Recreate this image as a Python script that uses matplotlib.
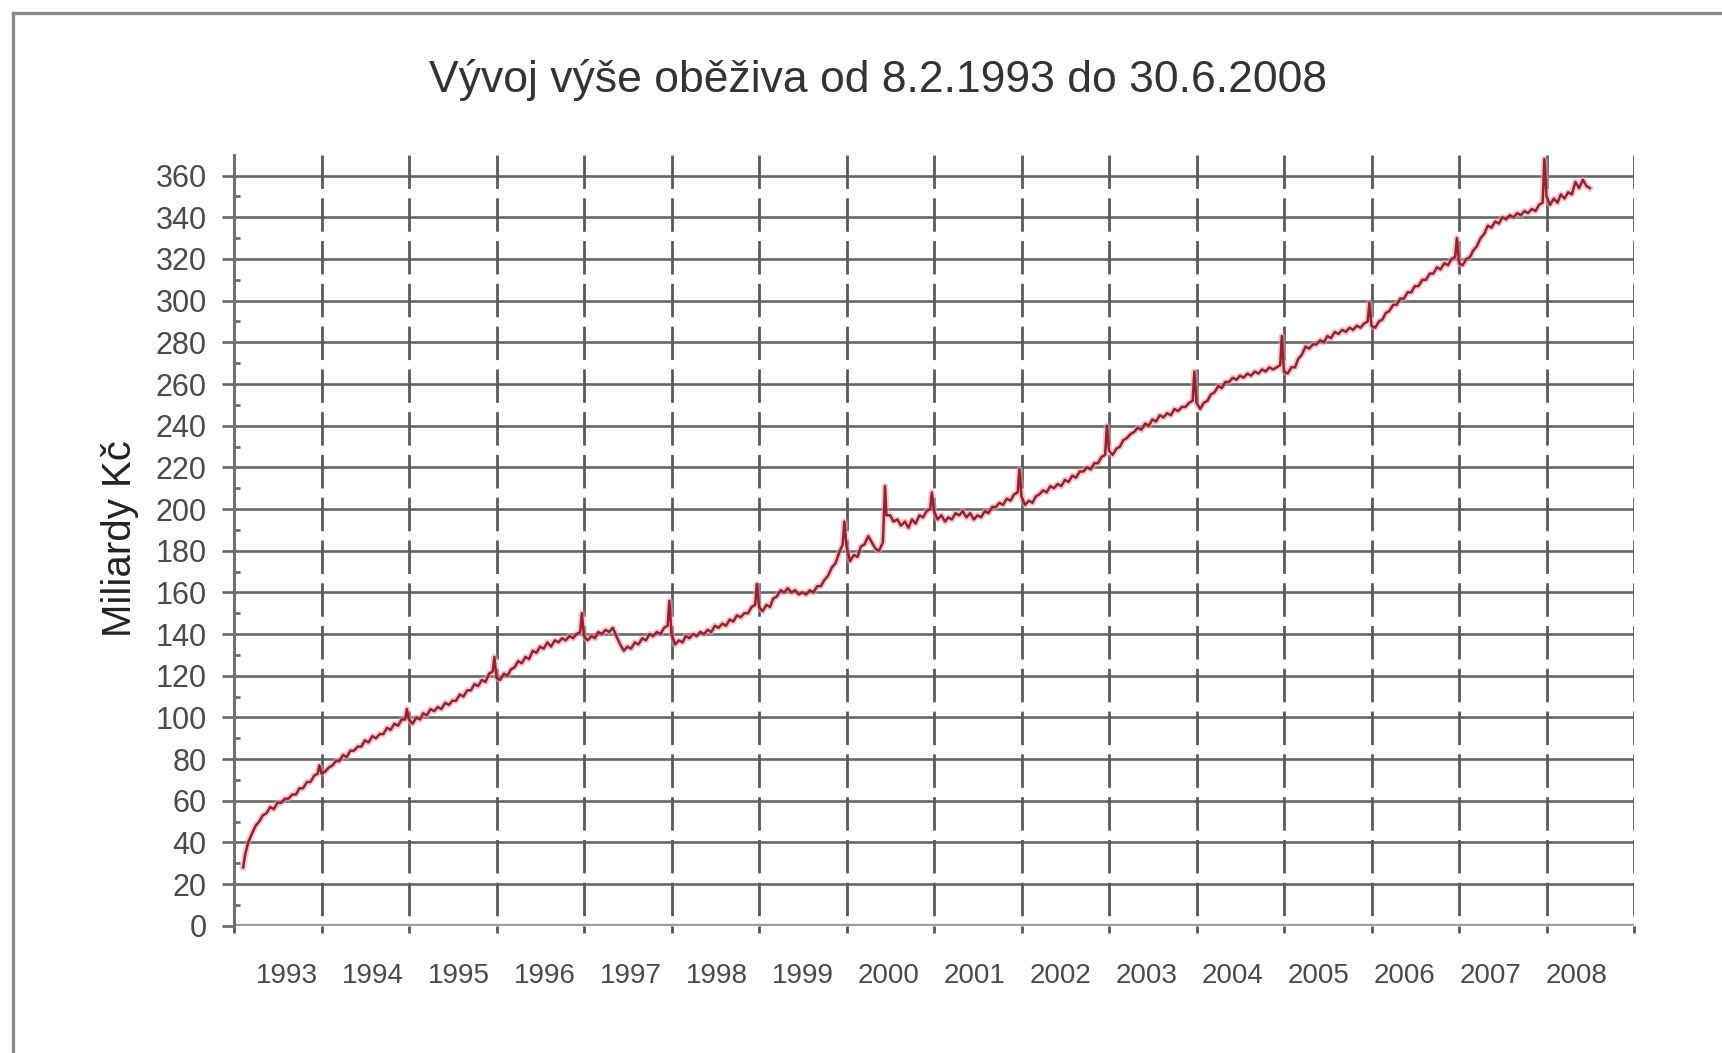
import pandas as pd
import matplotlib
matplotlib.use('Agg')
import matplotlib.pyplot as plt
import matplotlib.transforms as mtransforms
from matplotlib.lines import Line2D

title = 'Vývoj výše oběživa od 8.2.1993 do 30.6.2008'
ylabel = 'Miliardy Kč'

# oběživo v mld. Kč, odečteno z grafu vždy k 1. a 16. dni v měsíci
v1993 = [28, 34, 40, 44, 48, 50, 53, 54, 57, 56, 59, 59, 61, 61, 63, 63, 66, 66, 69, 69, 72, 73]  # od 8.2.
v1994 = [73, 74, 76, 77, 79, 79, 82, 81, 84, 84, 86, 86, 89, 88, 91, 90, 92, 92, 95, 94, 97, 96, 99, 99]
v1995 = [99, 97, 100, 99, 102, 101, 104, 103, 105, 104, 107, 106, 108, 108, 111, 110, 113, 113, 116, 115, 118, 117, 121, 122]
v1996 = [119, 118, 121, 120, 123, 124, 127, 126, 129, 128, 132, 131, 134, 133, 136, 134, 137, 136, 138, 137, 139, 138, 140, 141]
v1997 = [139, 137, 139, 138, 141, 140, 142, 141, 143, 139, 135, 132, 134, 133, 136, 135, 138, 137, 140, 139, 141, 140, 143, 144]
v1998 = [140, 135, 137, 136, 139, 138, 140, 139, 141, 140, 142, 141, 144, 143, 145, 144, 147, 146, 149, 148, 150, 150, 153, 154]
v1999 = [153, 151, 154, 153, 157, 158, 161, 160, 162, 160, 161, 159, 160, 159, 161, 160, 163, 163, 166, 168, 172, 174, 179, 183]
v2000 = [182, 175, 178, 177, 182, 183, 187, 184, 181, 180, 184, 197, 197, 194, 195, 192, 194, 191, 195, 193, 197, 196, 199, 200]
v2001 = [199, 195, 197, 194, 196, 195, 198, 197, 199, 196, 198, 195, 197, 196, 199, 198, 201, 201, 203, 202, 205, 204, 207, 208]
v2002 = [206, 202, 204, 203, 206, 207, 209, 208, 211, 210, 212, 211, 214, 213, 216, 215, 218, 218, 220, 219, 222, 222, 225, 226]
v2003 = [228, 226, 229, 230, 233, 234, 236, 237, 239, 238, 241, 240, 243, 242, 245, 244, 246, 245, 248, 247, 249, 249, 251, 252]
v2004 = [251, 248, 251, 252, 255, 256, 259, 258, 261, 261, 263, 262, 264, 263, 265, 264, 266, 265, 267, 266, 268, 267, 268, 269]
v2005 = [266, 265, 268, 268, 272, 274, 278, 277, 279, 279, 281, 280, 283, 282, 285, 284, 286, 285, 287, 286, 288, 287, 289, 290]
v2006 = [288, 287, 290, 291, 294, 295, 298, 298, 301, 301, 304, 304, 307, 307, 310, 310, 313, 313, 316, 315, 318, 317, 320, 321]
v2007 = [318, 317, 320, 321, 324, 326, 330, 332, 336, 335, 338, 337, 340, 339, 341, 340, 342, 341, 343, 342, 344, 343, 346, 347]
v2008 = [350, 346, 349, 347, 351, 349, 352, 351, 357, 354, 358, 355, 354]  # do 30.6.

# vánoční špičky (kolem 23.12.) 1993-2007 a jednorázová špička v červnu 2000
xmas_peaks = [77, 104, 129, 150, 156, 164, 194, 208, 219, 240, 266, 283, 299, 330, 368]
june2000_peak = 211

year_labels = [str(y) for y in range(1993, 2009)]
yticks = list(range(0, 361, 20))


def semi_monthly(year, first=1, last=12):
    return [pd.Timestamp(year, m, d) for m in range(first, last + 1) for d in (1, 16)]


dates = [pd.Timestamp(1993, 2, 8)] + semi_monthly(1993)[3:]
values = list(v1993)
for year, vals in zip(range(1994, 2008), [v1994, v1995, v1996, v1997, v1998, v1999, v2000,
                                          v2001, v2002, v2003, v2004, v2005, v2006, v2007]):
    dates += semi_monthly(year)
    values += vals
dates += semi_monthly(2008, 1, 6) + [pd.Timestamp(2008, 6, 30)]
values += v2008

dates += [pd.Timestamp(y, 12, 23) for y in range(1993, 2008)]
values += xmas_peaks
dates.append(pd.Timestamp(2000, 6, 10))
values.append(june2000_peak)

s = pd.Series(values, index=pd.DatetimeIndex(dates)).sort_index()
x = s.index.year + (s.index.dayofyear - 1) / (365 + s.index.is_leap_year.astype(int))

plt.rcParams['lines.scale_dashes'] = False
plt.rcParams['font.family'] = ['Liberation Sans', 'DejaVu Sans']

fig = plt.figure(figsize=(17.22, 10.53), dpi=100)
fig.patch.set_facecolor('#fdfdfd')
ax = fig.add_axes([0.1359, 0.1208, 0.813, 0.7322])
ax.set_facecolor('#fdfdfd')

x0, x1 = 1993.0, 2009.0
ax.set_xlim(x0, x1)
ax.set_ylim(0, 370)

# mřížka
for yv in yticks[1:]:
    ax.axhline(yv, color='#666666', lw=1.9, zorder=1)
ax.vlines(range(1994, 2010), 370, 0, colors='#5a5a5a', lw=2.0,
          linestyles=[(0, (24.1, 6.7))], zorder=1)
ax.axhline(0, color='#9c9c9c', lw=3.8, zorder=2)

ax.plot(x, s.values, color='#e3a3ab', lw=4.6, alpha=0.55, zorder=3, solid_joinstyle='round')
ax.plot(x, s.values, color='#952232', lw=1.8, zorder=4)

for side in ['top', 'right', 'bottom']:
    ax.spines[side].set_visible(False)
ax.spines['left'].set_color('#707070')
ax.spines['left'].set_linewidth(2.2)

ax.set_yticks(yticks)
ax.set_yticks(range(10, 370, 20), minor=True)
ax.tick_params(axis='y', which='major', direction='out', length=8.6, width=1.9,
               color='#666666', pad=11, labelsize=22, labelcolor='#4a4a4a')
ax.tick_params(axis='y', which='minor', direction='in', length=4.3, width=1.9, color='#666666')

ax.set_xticks(list(range(1993, 2010)))
ax.set_xticklabels([])
ax.tick_params(axis='x', which='major', direction='out', length=5, width=2.0, color='#555555')

trans = mtransforms.blended_transform_factory(ax.transData, fig.transFigure)
for k, lab in enumerate(year_labels):
    ax.text(1993.6 + k * 0.983, 0.0731, lab, transform=trans, ha='center', va='center',
            fontsize=20, color='#4a4a4a')

fig.text(0.510, 0.924, title, ha='center', va='center', fontsize=32, color='#333333')
fig.text(0.0695, 0.489, ylabel, ha='center', va='center', rotation=90,
         fontsize=29, color='#222222')

# rámeček grafu (levý a horní okraj)
fig.add_artist(Line2D([13 / 1722, 13 / 1722], [0, 1 - 13 / 1053], color='#8a8a8a', lw=2.3))
fig.add_artist(Line2D([13 / 1722, 1], [1 - 13 / 1053, 1 - 13 / 1053], color='#8a8a8a', lw=2.3))

fig.savefig('out.png', dpi=100, facecolor=fig.get_facecolor())
